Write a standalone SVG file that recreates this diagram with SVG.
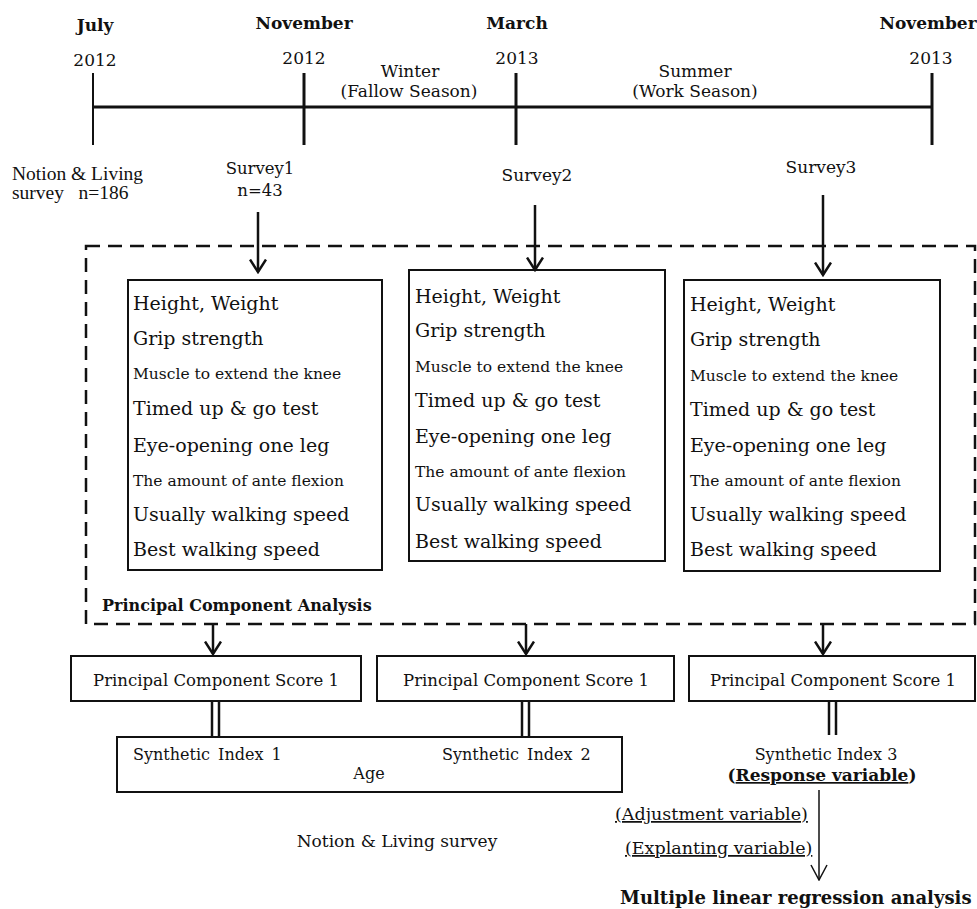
<svg xmlns="http://www.w3.org/2000/svg" width="977" height="909" viewBox="0 0 977 909">
<style>
text{font-family:"DejaVu Serif","Liberation Serif",serif;fill:#111}
.b{font-weight:bold}
.m{text-anchor:middle}
.big{font-size:19px}
.sm{font-size:15.5px}
.tl{font-size:17px}
.box{fill:#fff;stroke:#111;stroke-width:2}
.ln{stroke:#111;fill:none}
.ul{text-decoration:underline}
</style>
<defs>
<marker id="v" viewBox="0 0 15 18" refX="13.5" refY="9" markerWidth="15" markerHeight="18" markerUnits="userSpaceOnUse" orient="auto">
<path d="M1,1 L13.5,9 L1,17" fill="none" stroke="#111" stroke-width="2.5"/>
</marker>
<marker id="vt" viewBox="0 0 17 18" refX="16" refY="9" markerWidth="17" markerHeight="18" markerUnits="userSpaceOnUse" orient="auto">
<path d="M1,1 L16,9 L1,17" fill="none" stroke="#111" stroke-width="1.5"/>
</marker>
</defs>

<g id="timeline">
<line class="ln" x1="93" y1="107" x2="932" y2="107" stroke-width="3"/>
<line class="ln" x1="93" y1="73" x2="93" y2="145" stroke-width="2"/>
<line class="ln" x1="304" y1="73" x2="304" y2="145" stroke-width="3"/>
<line class="ln" x1="516" y1="73" x2="516" y2="145" stroke-width="3"/>
<line class="ln" x1="932" y1="73" x2="932" y2="145" stroke-width="3"/>
<text class="b m tl" x="95" y="31">July</text>
<text class="b m tl" x="304" y="29">November</text>
<text class="b m tl" x="517" y="29">March</text>
<text class="b m tl" x="928" y="29">November</text>
<text class="m tl" x="95" y="66">2012</text>
<text class="m tl" x="304" y="64">2012</text>
<text class="m tl" x="517" y="64">2013</text>
<text class="m tl" x="931" y="64">2013</text>
<text class="m tl" x="410" y="77">Winter</text>
<text class="m tl" x="409" y="97">(Fallow Season)</text>
<text class="m tl" x="695" y="77">Summer</text>
<text class="m tl" x="695" y="97">(Work Season)</text>
</g>

<g id="notion-living-top">
<text x="12" y="180" style="font-family:'Liberation Serif',serif;font-size:19.5px">Notion &amp; Living</text>
<text x="12" y="199" style="font-family:'Liberation Serif',serif;font-size:19.5px" xml:space="preserve">survey   n=186</text>
</g>
<g id="survey1">
<text class="m" x="260" y="174" style="font-size:16.5px">Survey1</text>
<text class="m" x="260" y="196" style="font-size:16.5px">n=43</text>
</g>
<g id="survey2"><text class="m tl" x="537" y="181">Survey2</text></g>
<g id="survey3"><text class="m tl" x="821" y="173">Survey3</text></g>

<g id="pca">
<rect x="86" y="246" width="889" height="378" fill="none" stroke="#111" stroke-width="2.5" stroke-dasharray="14 8"/>
<text class="b" x="102" y="611" style="font-size:16px">Principal Component Analysis</text>
</g>

<g id="box1">
<rect class="box" x="128" y="280" width="254" height="290"/>
<text class="big" x="133" y="310">Height, Weight</text>
<text class="big" x="133" y="345">Grip strength</text>
<text class="sm" x="133" y="379">Muscle to extend the knee</text>
<text class="big" x="133" y="415">Timed up &amp; go test</text>
<text class="big" x="133" y="452">Eye-opening one leg</text>
<text class="sm" x="133" y="486">The amount of ante flexion</text>
<text class="big" x="133" y="521">Usually walking speed</text>
<text class="big" x="133" y="556">Best walking speed</text>
</g>
<g id="box2">
<rect class="box" x="409" y="270" width="256" height="291"/>
<text class="big" x="415" y="303">Height, Weight</text>
<text class="big" x="415" y="337">Grip strength</text>
<text class="sm" x="415" y="372">Muscle to extend the knee</text>
<text class="big" x="415" y="407">Timed up &amp; go test</text>
<text class="big" x="415" y="443">Eye-opening one leg</text>
<text class="sm" x="415" y="477">The amount of ante flexion</text>
<text class="big" x="415" y="511">Usually walking speed</text>
<text class="big" x="415" y="548">Best walking speed</text>
</g>
<g id="box3">
<rect class="box" x="684" y="280" width="256" height="291"/>
<text class="big" x="690" y="311">Height, Weight</text>
<text class="big" x="690" y="346">Grip strength</text>
<text class="sm" x="690" y="381">Muscle to extend the knee</text>
<text class="big" x="690" y="416">Timed up &amp; go test</text>
<text class="big" x="690" y="452">Eye-opening one leg</text>
<text class="sm" x="690" y="486">The amount of ante flexion</text>
<text class="big" x="690" y="521">Usually walking speed</text>
<text class="big" x="690" y="556">Best walking speed</text>
</g>

<g id="pcs1"><rect class="box" x="71" y="656" width="290" height="45"/><text class="m" x="216" y="686" style="font-size:16.5px">Principal Component Score 1</text></g>
<g id="pcs2"><rect class="box" x="377" y="656" width="297" height="45"/><text class="m" x="526" y="686" style="font-size:16.5px">Principal Component Score 1</text></g>
<g id="pcs3"><rect class="box" x="689" y="656" width="286" height="45"/><text class="m" x="833" y="686" style="font-size:16.5px">Principal Component Score 1</text></g>

<g id="synthetic">
<rect class="box" x="117" y="737" width="505" height="55"/>
<text x="133" y="760" style="font-size:16px;word-spacing:3px">Synthetic Index 1</text>
<text x="442" y="760" style="font-size:16px;word-spacing:3px">Synthetic Index 2</text>
<text class="m" x="369" y="779" style="font-size:16px">Age</text>
</g>
<g id="synthetic3">
<text class="m" x="826" y="760" style="font-size:16px">Synthetic Index 3</text>
<text class="m b" x="822" y="781" style="font-size:17px">(<tspan class="ul">Response variable</tspan>)</text>
</g>
<g id="labels">
<text class="ul" x="615" y="820" style="font-size:17.5px">(Adjustment variable)</text>
<text class="ul" x="625" y="854" style="font-size:17.5px">(Explanting variable)</text>
<text class="m" x="397" y="847" style="font-size:17px">Notion &amp; Living survey</text>
</g>
<g id="mlr"><text class="b" x="620" y="904" style="font-size:18px">Multiple linear regression analysis</text></g>

<g id="connectors">
<line class="ln" x1="258" y1="212" x2="258" y2="272" stroke-width="2.5" marker-end="url(#v)"/>
<line class="ln" x1="535" y1="205" x2="535" y2="270" stroke-width="2.5" marker-end="url(#v)"/>
<line class="ln" x1="823" y1="195" x2="823" y2="275" stroke-width="2.5" marker-end="url(#v)"/>
<line class="ln" x1="213" y1="624" x2="213" y2="654" stroke-width="2.5" marker-end="url(#v)"/>
<line class="ln" x1="526" y1="624" x2="526" y2="654" stroke-width="2.5" marker-end="url(#v)"/>
<line class="ln" x1="823" y1="624" x2="823" y2="654" stroke-width="2.5" marker-end="url(#v)"/>
<line class="ln" x1="212" y1="701" x2="212" y2="737" stroke-width="2.5"/>
<line class="ln" x1="219" y1="701" x2="219" y2="737" stroke-width="2.5"/>
<line class="ln" x1="522" y1="701" x2="522" y2="737" stroke-width="2.5"/>
<line class="ln" x1="529" y1="701" x2="529" y2="737" stroke-width="2.5"/>
<line class="ln" x1="829" y1="701" x2="829" y2="735" stroke-width="2.5"/>
<line class="ln" x1="836" y1="701" x2="836" y2="735" stroke-width="2.5"/>
<line class="ln" x1="819" y1="790" x2="819" y2="880" stroke-width="1.5" marker-end="url(#vt)"/>
</g>
</svg>
